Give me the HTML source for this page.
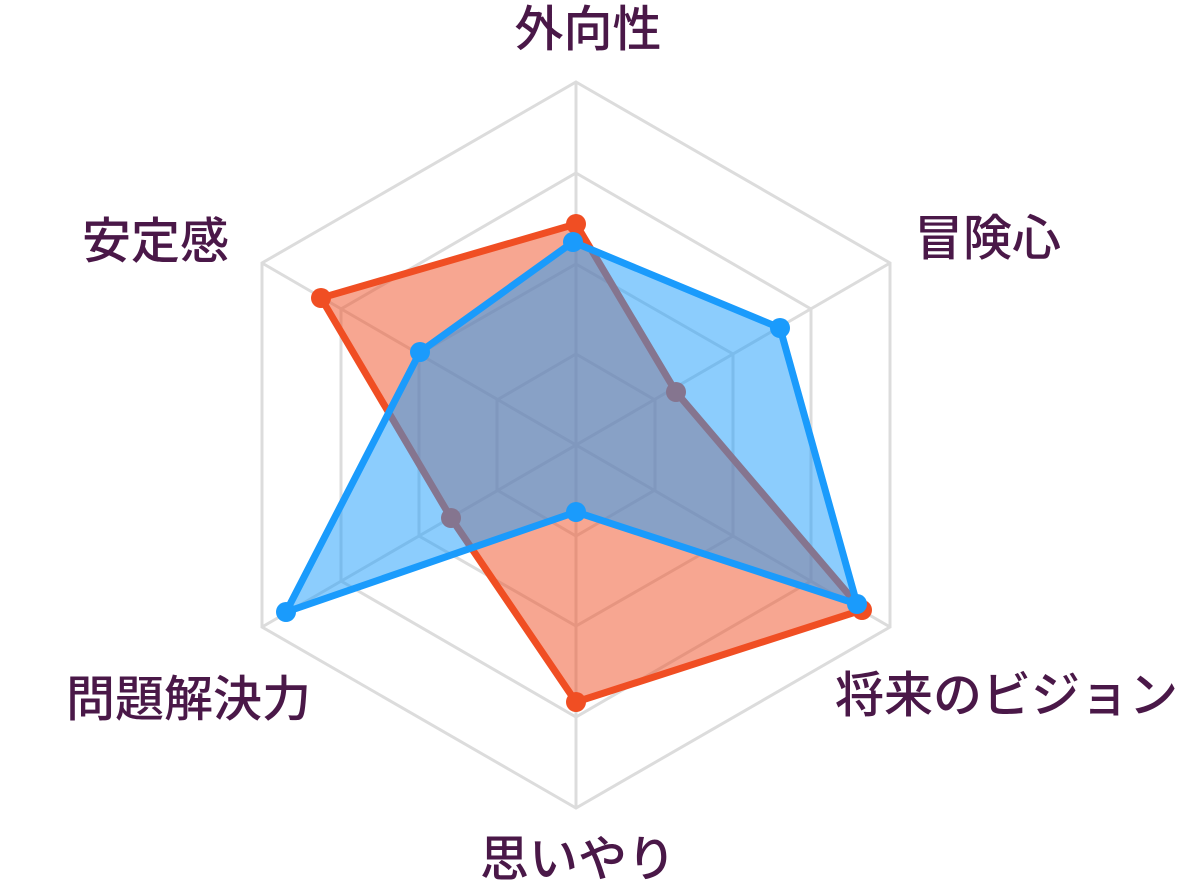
<!DOCTYPE html>
<html><head><meta charset="utf-8"><style>
html,body{margin:0;padding:0;background:#fff;}
svg text{font-family:"Liberation Sans","Noto Sans CJK JP",sans-serif;font-size:49px;fill:#4a1848;font-weight:500;}
</style></head><body>
<svg width="1192" height="891" viewBox="0 0 1192 891" xmlns="http://www.w3.org/2000/svg">
<g fill="none" stroke="#dcdcdc" stroke-width="3">
<polygon points="576,82 890,263 890,627 576,808 262,627 262,263"/>
<polygon points="576,173 811,309 811,581 576,717 341,581 341,309"/>
<polygon points="576,264 733,354 733,536 576,626 419,536 419,354"/>
<polygon points="576,354 655,400 655,490 576,536 497,490 497,400"/>
<line x1="576" y1="82" x2="576" y2="808"/>
<line x1="890" y1="263" x2="262" y2="627"/>
<line x1="890" y1="627" x2="262" y2="263"/>
</g>
<polygon points="576,224 676,392 862,610 576,702 451,518 321,298" fill="rgba(240,78,35,0.5)" stroke="#f04e23" stroke-width="7" stroke-linejoin="round"/>
<g fill="#f04e23">
<circle cx="576" cy="224" r="10"/><circle cx="676" cy="392" r="10"/><circle cx="862" cy="610" r="10"/><circle cx="576" cy="702" r="10"/><circle cx="451" cy="518" r="10"/><circle cx="321" cy="298" r="10"/>
</g>
<polygon points="573,242 780,328 857,604 576,512 286,612 420,352" fill="rgba(26,155,252,0.5)" stroke="#1a9bfc" stroke-width="7" stroke-linejoin="round"/>
<g fill="#1a9bfc">
<circle cx="573" cy="242" r="10"/><circle cx="780" cy="328" r="10"/><circle cx="857" cy="604" r="10"/><circle cx="576" cy="512" r="10"/><circle cx="286" cy="612" r="10"/><circle cx="420" cy="352" r="10"/>
</g>
<text x="588" y="46" text-anchor="middle">外向性</text>
<text x="914" y="255">冒険心</text>
<text x="229" y="258" text-anchor="end">安定感</text>
<text x="835" y="712">将来のビジョン</text>
<text x="578" y="876" text-anchor="middle">思いやり</text>
<text x="311" y="716" text-anchor="end">問題解決力</text>
</svg>
</body></html>
